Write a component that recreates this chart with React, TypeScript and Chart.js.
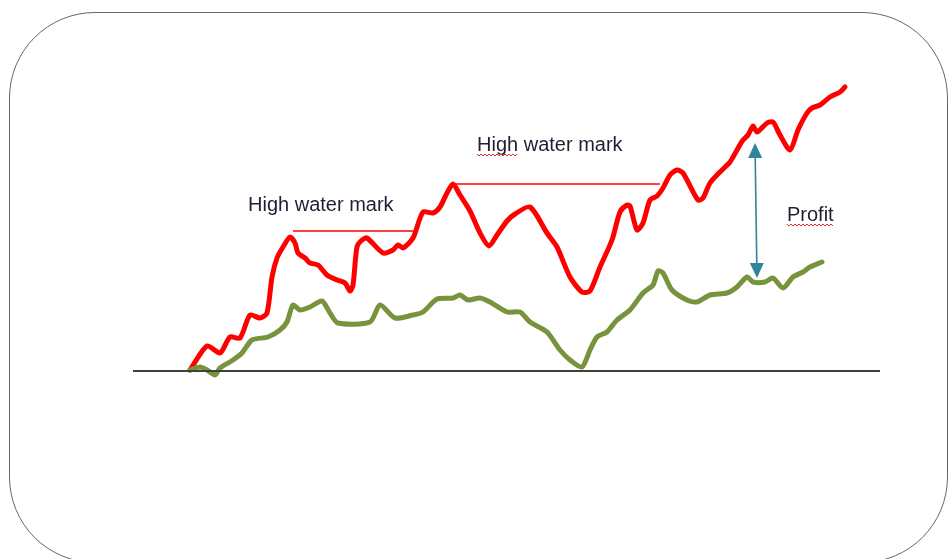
import React, { useEffect, useRef } from "react";
import { Chart, registerables } from "chart.js";

Chart.register(...registerables);

// Time index (x) and value above the starting level (y)
const fundX = [0, 17, 30, 40, 50, 60, 70, 77, 82, 87, 93, 100, 105, 108, 115, 120, 128, 137, 147, 155, 160, 163, 167, 172, 177, 193, 203, 208, 213, 223, 233, 243, 250, 257, 263, 270, 280, 290, 299, 307, 317, 325, 340, 357, 367, 380, 392, 400, 410, 422, 430, 437, 440, 447, 453, 460, 467, 473, 480, 487, 493, 508, 513, 520, 530, 540, 547, 553, 558, 563, 567, 577, 583, 590, 600, 608, 617, 622, 630, 640, 650, 655];
const fundY = [1, 25, 18, 34, 33, 56, 53, 58, 94, 113, 124, 134, 128, 118, 113, 108, 106, 96, 91, 88, 80, 86, 124, 131, 133, 118, 121, 126, 123, 133, 159, 158, 164, 178, 187, 176, 160, 138, 125, 136, 150, 157, 164, 138, 124, 94, 79, 80, 104, 131, 159, 166, 165, 141, 148, 171, 175, 183, 196, 201, 198, 171, 173, 188, 199, 209, 221, 231, 236, 245, 239, 248, 249, 236, 221, 241, 258, 263, 266, 274, 279, 284];

const netX = [0, 10, 17, 25, 30, 43, 52, 62, 78, 90, 97, 103, 110, 120, 132, 140, 148, 180, 190, 205, 223, 233, 247, 263, 270, 278, 290, 300, 317, 330, 340, 357, 370, 380, 392, 400, 407, 417, 427, 440, 453, 463, 468, 473, 482, 497, 507, 520, 537, 547, 557, 563, 575, 583, 593, 603, 613, 620, 632];
const netY = [1, 4, 1, -4, 3, 11, 18, 31, 34, 41, 49, 66, 61, 64, 70, 58, 48, 49, 66, 53, 56, 59, 72, 73, 76, 71, 73, 69, 59, 59, 49, 39, 21, 11, 4, 21, 34, 39, 51, 61, 78, 86, 100, 98, 81, 71, 69, 76, 78, 84, 94, 89, 89, 93, 83, 94, 99, 104, 109];

const baselineX = [-57, 690];
const baselineY = [0, 0];

const hwm1X = [103, 223];
const hwm1Y = [140, 140];
const hwm2X = [265, 470];
const hwm2Y = [187, 187];

const arrowX = [565, 567];
const arrowY = [228, 93];

const labelTexts = ["High water mark", "High water mark", "Profit"];
const labelX = [58, 287, 597];
const labelY = [160, 220, 150];
const labelSpellWord = ["", "High", "Profit"];

const xMin = -190;
const xMax = 759;
const yMin = -188;
const yMax = 371;

const toPts = (xs: number[], ys: number[]) => xs.map((x, i) => ({ x, y: ys[i] }));

const annotationPlugin = {
  id: "annotations",
  afterDatasetsDraw(chart: any) {
    const { ctx, scales } = chart;
    const xs = scales.x;
    const ys = scales.y;
    ctx.save();
    // double arrow
    const x1 = xs.getPixelForValue(arrowX[0]);
    const y1 = ys.getPixelForValue(arrowY[0]);
    const x2 = xs.getPixelForValue(arrowX[1]);
    const y2 = ys.getPixelForValue(arrowY[1]);
    const color = "#31849b";
    const headLen = 15;
    const headHalf = 7;
    const ang = Math.atan2(y2 - y1, x2 - x1);
    const ux = Math.cos(ang);
    const uy = Math.sin(ang);
    ctx.strokeStyle = color;
    ctx.lineWidth = 1.6;
    ctx.beginPath();
    ctx.moveTo(x1 + ux * headLen, y1 + uy * headLen);
    ctx.lineTo(x2 - ux * headLen, y2 - uy * headLen);
    ctx.stroke();
    ctx.fillStyle = color;
    const head = (tx: number, ty: number, dx: number, dy: number) => {
      const bx = tx - dx * headLen;
      const by = ty - dy * headLen;
      ctx.beginPath();
      ctx.moveTo(tx, ty);
      ctx.lineTo(bx - dy * headHalf, by + dx * headHalf);
      ctx.lineTo(bx + dy * headHalf, by - dx * headHalf);
      ctx.closePath();
      ctx.fill();
    };
    head(x1, y1, -ux, -uy);
    head(x2, y2, ux, uy);

    // labels
    ctx.font = "20px 'Liberation Sans', Arial, sans-serif";
    ctx.textBaseline = "alphabetic";
    ctx.textAlign = "left";
    labelTexts.forEach((t, i) => {
      const px = xs.getPixelForValue(labelX[i]);
      const py = ys.getPixelForValue(labelY[i]);
      ctx.fillStyle = "#1f1f33";
      ctx.fillText(t, px, py);
      const w = labelSpellWord[i];
      if (w) {
        const wl = ctx.measureText(w).width;
        ctx.strokeStyle = "#e03030";
        ctx.lineWidth = 1;
        ctx.beginPath();
        const yy = py + 3;
        let k = 0;
        for (let xx = px; xx <= px + wl; xx += 2) {
          const off = k % 2 === 0 ? 0 : 2;
          if (k === 0) ctx.moveTo(xx, yy + off);
          else ctx.lineTo(xx, yy + off);
          k++;
        }
        ctx.stroke();
      }
    });
    ctx.restore();
  },
};

export default function App() {
  const canvasRef = useRef<HTMLCanvasElement | null>(null);

  useEffect(() => {
    document.body.style.margin = "0";
    const canvas = canvasRef.current;
    if (!canvas) return;
    const chart = new Chart(canvas, {
      type: "line",
      data: {
        datasets: [
          {
            label: "baseline",
            data: toPts(baselineX, baselineY),
            borderColor: "#404040",
            borderWidth: 2,
            pointRadius: 0,
            tension: 0,
          },
          {
            label: "hwm1",
            data: toPts(hwm1X, hwm1Y),
            borderColor: "#ff0000",
            borderWidth: 1.5,
            pointRadius: 0,
            tension: 0,
          },
          {
            label: "hwm2",
            data: toPts(hwm2X, hwm2Y),
            borderColor: "#ff0000",
            borderWidth: 1.5,
            pointRadius: 0,
            tension: 0,
          },
          {
            label: "net",
            data: toPts(netX, netY),
            borderColor: "#77933c",
            borderWidth: 5,
            pointRadius: 0,
            tension: 0.25,
            borderJoinStyle: "round",
            borderCapStyle: "round",
          },
          {
            label: "fund",
            data: toPts(fundX, fundY),
            borderColor: "#ff0000",
            borderWidth: 5,
            pointRadius: 0,
            tension: 0.25,
            borderJoinStyle: "round",
            borderCapStyle: "round",
          },
        ],
      },
      options: {
        animation: false,
        responsive: false,
        maintainAspectRatio: false,
        devicePixelRatio: 1,
        layout: { padding: 0 },
        plugins: {
          legend: { display: false },
          tooltip: { enabled: false },
        },
        scales: {
          x: { type: "linear", min: xMin, max: xMax, display: false },
          y: { type: "linear", min: yMin, max: yMax, display: false },
        },
      },
      plugins: [annotationPlugin],
    });
    return () => chart.destroy();
  }, []);

  return (
    <div
      style={{
        position: "fixed",
        left: 0,
        top: 0,
        width: 949,
        height: 559,
        overflow: "hidden",
        background: "#ffffff",
      }}
    >
      <div
        style={{
          position: "absolute",
          left: 9,
          top: 12,
          width: 939,
          height: 551,
          boxSizing: "border-box",
          border: "1.5px solid #666666",
          borderRadius: 86,
        }}
      />
      <canvas
        ref={canvasRef}
        width={949}
        height={559}
        style={{ position: "absolute", left: 0, top: 0, width: 949, height: 559 }}
      />
    </div>
  );
}
